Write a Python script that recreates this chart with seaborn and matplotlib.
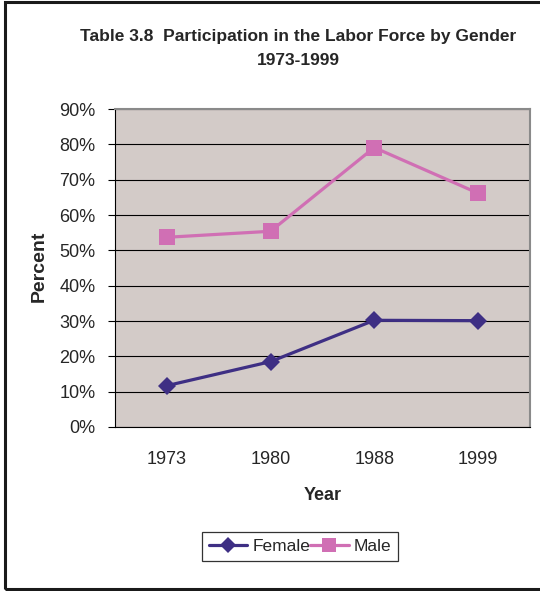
import matplotlib
matplotlib.use("Agg")
import matplotlib.pyplot as plt
import matplotlib.ticker as mticker
import pandas as pd
import seaborn as sns
from matplotlib.patches import Rectangle

sns.set_style("white")
plt.rcParams['font.family'] = ['Liberation Sans', 'DejaVu Sans']

years = ["1973", "1980", "1988", "1999"]
female = [11.7, 18.5, 30.2, 30.1]
male = [53.7, 55.4, 79.1, 66.2]
y_ticks = [0, 10, 20, 30, 40, 50, 60, 70, 80, 90]

df = pd.DataFrame({
    "Year": years * 2,
    "Percent": female + male,
    "Gender": ["Female"] * len(years) + ["Male"] * len(years),
})

colors = {"Female": "#3E2F84", "Male": "#D06FB4"}

fig = plt.figure(figsize=(5.4, 5.91), dpi=100)
ax = fig.add_axes([0.213, 0.2775, 0.768, 0.538])
ax.set_facecolor("#D3CBC8")

sns.lineplot(data=df[df.Gender == "Female"], x="Year", y="Percent",
             color=colors["Female"], marker="D", markersize=9,
             markeredgewidth=0, sort=False, linewidth=2.3, ax=ax)
sns.lineplot(data=df[df.Gender == "Male"], x="Year", y="Percent",
             color=colors["Male"], marker="s", markersize=11,
             markeredgewidth=0, sort=False, linewidth=2.3, ax=ax)

ax.set_xlim(-0.5, len(years) - 0.5)
ax.set_ylim(0, 90)
ax.set_yticks(y_ticks)
ax.yaxis.set_major_formatter(mticker.FuncFormatter(lambda v, p: f"{v:.0f}%"))
ax.grid(axis="y", color="black", linewidth=0.8)
ax.set_axisbelow(True)

ax.set_xticks(range(len(years)))
ax.set_xticklabels(years)
ax.set_xticks([i - 0.5 for i in range(len(years) + 1)], minor=True)
ax.tick_params(axis="x", which="major", length=0, pad=17, labelsize=13)
ax.tick_params(axis="x", which="minor", length=5, width=0.8, direction="out",
               color="black")
ax.tick_params(axis="y", length=5, width=0.8, direction="out", pad=9,
               labelsize=13, color="black", left=True)
ax.set_xlabel("")
ax.set_ylabel("")

for side in ["top", "right"]:
    ax.spines[side].set_color("#8A8A8A")
    ax.spines[side].set_linewidth(1.5)
ax.spines["left"].set_color("black")
ax.spines["bottom"].set_color("black")
ax.spines["left"].set_linewidth(0.8)
ax.spines["bottom"].set_linewidth(0.8)

fig.text(0.553, 0.938, "Table 3.8  Participation in the Labor Force by Gender",
         ha="center", va="center", fontsize=12.5, fontweight="bold")
fig.text(0.553, 0.898, "1973-1999", ha="center", va="center",
         fontsize=12.5, fontweight="bold")
fig.text(0.072, 0.55, "Percent", rotation=90, ha="center", va="center",
         fontsize=14, fontweight="bold")
fig.text(0.597, 0.162, "Year", ha="center", va="center",
         fontsize=13, fontweight="bold")

handles = [
    plt.Line2D([], [], color=colors["Female"], marker="D", markersize=8,
               linewidth=2.3, markeredgewidth=0, label="Female"),
    plt.Line2D([], [], color=colors["Male"], marker="s", markersize=10,
               linewidth=2.3, markeredgewidth=0, label="Male"),
]
leg = fig.legend(handles=handles, loc="center", bbox_to_anchor=(0.556, 0.075),
                 ncol=2, fontsize=12.5, frameon=True, fancybox=False,
                 handlelength=2.2, handletextpad=0.3, columnspacing=0.0,
                 borderpad=0.4, edgecolor="black")
leg.get_frame().set_linewidth(0.9)

fig.patches.append(Rectangle((0.01, 0.003), 1.2, 0.994, transform=fig.transFigure,
                             fill=False, edgecolor="#1A1A1A", linewidth=2.2))

fig.savefig("out.png", dpi=100)
